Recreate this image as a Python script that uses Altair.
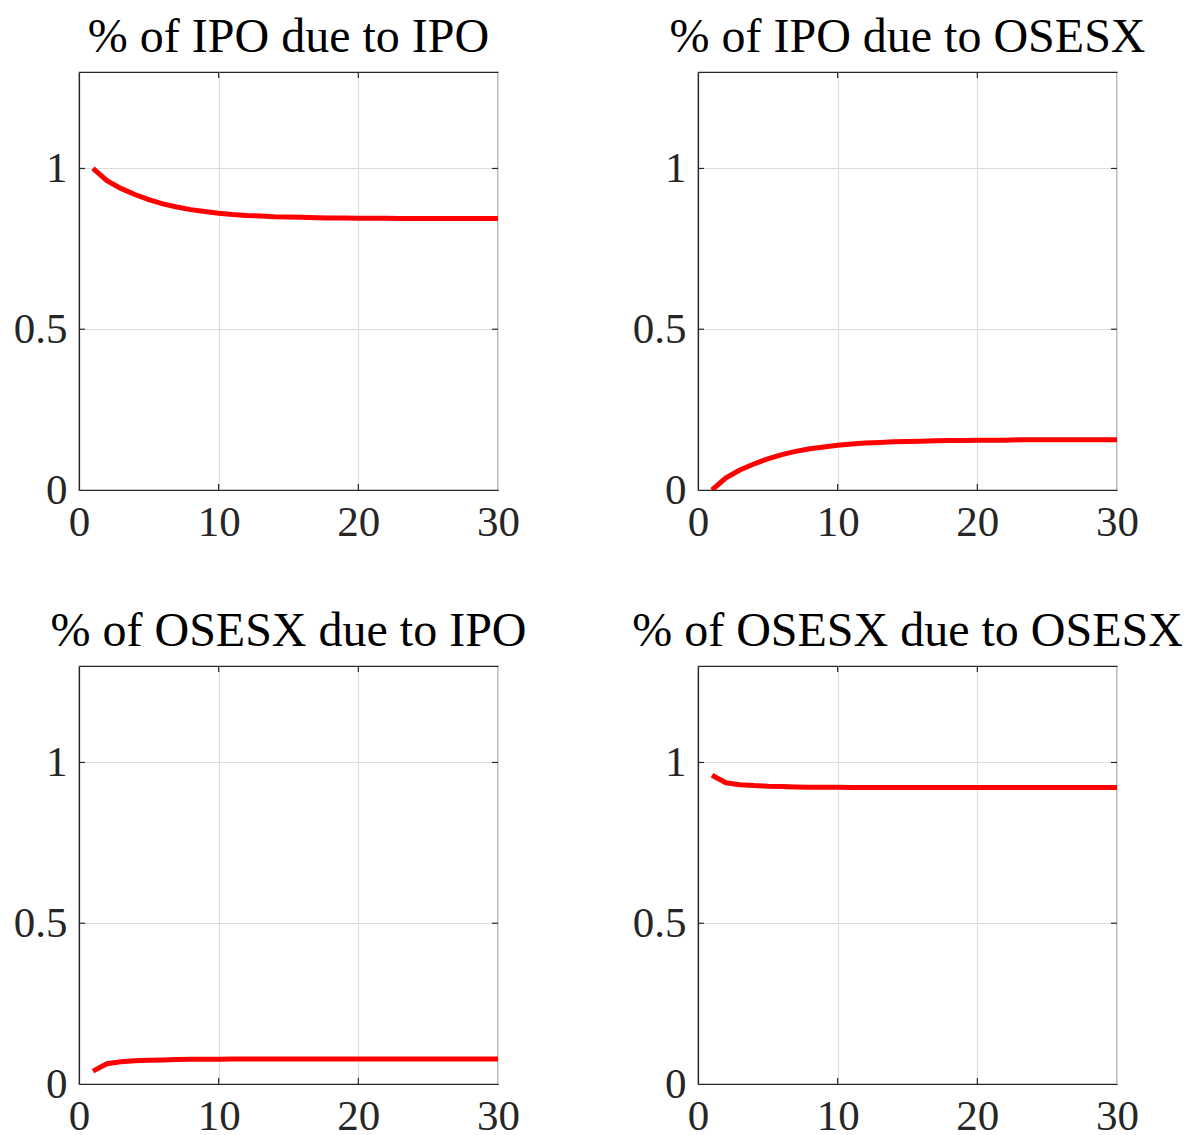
import altair as alt
import pandas as pd

steps = list(range(1, 31))

ipo_due_ipo = [1.000, 0.962, 0.938, 0.919, 0.903, 0.890, 0.880, 0.872, 0.866, 0.861,
               0.857, 0.854, 0.852, 0.850, 0.849, 0.848, 0.847, 0.846, 0.846, 0.845,
               0.845, 0.845, 0.844, 0.844, 0.844, 0.844, 0.844, 0.844, 0.844, 0.844]
ipo_due_osesx = [0.000, 0.038, 0.062, 0.081, 0.097, 0.110, 0.120, 0.128, 0.134, 0.139,
                 0.143, 0.146, 0.148, 0.150, 0.151, 0.152, 0.153, 0.154, 0.154, 0.155,
                 0.155, 0.155, 0.156, 0.156, 0.156, 0.156, 0.156, 0.156, 0.156, 0.156]
osesx_due_ipo = [0.040, 0.063, 0.069, 0.072, 0.074, 0.075, 0.076, 0.077, 0.077, 0.077,
                 0.078, 0.078, 0.078, 0.078, 0.078, 0.078, 0.078, 0.078, 0.078, 0.078,
                 0.078, 0.078, 0.078, 0.078, 0.078, 0.078, 0.078, 0.078, 0.078, 0.078]
osesx_due_osesx = [0.960, 0.937, 0.931, 0.928, 0.926, 0.925, 0.924, 0.923, 0.923, 0.923,
                   0.922, 0.922, 0.922, 0.922, 0.922, 0.922, 0.922, 0.922, 0.922, 0.922,
                   0.922, 0.922, 0.922, 0.922, 0.922, 0.922, 0.922, 0.922, 0.922, 0.922]

titles = ["% of IPO due to IPO", "% of IPO due to OSESX",
          "% of OSESX due to IPO", "% of OSESX due to OSESX"]
series = [ipo_due_ipo, ipo_due_osesx, osesx_due_ipo, osesx_due_osesx]

x_ticks = [0, 10, 20, 30]
y_ticks = [0, 0.5, 1]
x_inner_ticks = [10, 20]
y_inner_ticks = [0.5, 1]

FONT = "Liberation Serif"
INK = "#262626"
W, H = 419, 418
TL = 6  # inward tick length

xscale = alt.Scale(domain=[0, 30], nice=False)
yscale = alt.Scale(domain=[0, 1.3], nice=False)


def panel(vals, title):
    df = pd.DataFrame({"step": steps, "share": vals})
    xt = pd.DataFrame({"step": x_inner_ticks})
    yt = pd.DataFrame({"share": y_inner_ticks})

    line = (
        alt.Chart(df)
        .mark_line(color="#ff0000", strokeWidth=5, clip=True)
        .encode(
            x=alt.X("step:Q", scale=xscale,
                    axis=alt.Axis(values=x_ticks, title=None, format=".1~f")),
            y=alt.Y("share:Q", scale=yscale,
                    axis=alt.Axis(values=y_ticks, title=None, format=".1~f")),
        )
    )
    rule = dict(color=INK, strokeWidth=1.2)
    bot = alt.Chart(xt).mark_rule(**rule).encode(
        x=alt.X("step:Q", scale=xscale), y=alt.value(H - TL), y2=alt.value(H))
    top = alt.Chart(xt).mark_rule(**rule).encode(
        x=alt.X("step:Q", scale=xscale), y=alt.value(0), y2=alt.value(TL))
    left = alt.Chart(yt).mark_rule(**rule).encode(
        y=alt.Y("share:Q", scale=yscale), x=alt.value(0), x2=alt.value(TL))
    right = alt.Chart(yt).mark_rule(**rule).encode(
        y=alt.Y("share:Q", scale=yscale), x=alt.value(W - TL), x2=alt.value(W))

    return (
        alt.layer(line, bot, top, left, right)
        .properties(width=W, height=H,
                    title=alt.TitleParams(title, fontSize=48, font=FONT,
                                          fontWeight="normal", color="#000000",
                                          offset=9))
    )


panels = [panel(v, t) for v, t in zip(series, titles)]

chart = (
    alt.concat(*panels, columns=2, spacing=alt.RowColnumber(row=176, column=200),
               bounds="flush")
    .properties(padding={"left": 4, "top": 5, "right": 0, "bottom": 0},
                background="white")
    .configure_view(stroke=INK, strokeWidth=1.2)
    .configure_axis(
        labelFont=FONT, labelFontSize=43, labelColor=INK,
        domainColor=INK, domainWidth=1.2, ticks=False, labelFlush=False,
        gridColor="#dcdcdc", gridWidth=1,
    )
    .configure_axisX(labelPadding=11)
    .configure_axisY(labelPadding=12)
)

chart.save("out.html", embed_options={"renderer": "svg", "actions": False})
